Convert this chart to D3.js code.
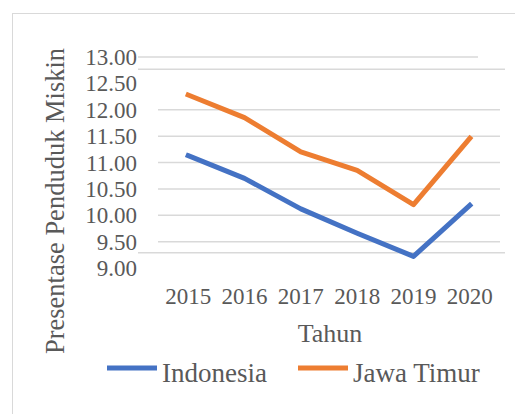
<!DOCTYPE html>
<html><head><meta charset="utf-8">
<script src="https://cdn.jsdelivr.net/npm/d3@7"></script>
<style>body{margin:0;background:#fff}</style>
</head><body><svg id="c" width="515" height="414" style="font-family:'Liberation Serif','Times New Roman',serif"></svg>
<script>
const years = ["2015","2016","2017","2018","2019","2020"];
const indonesia = [11.13, 10.70, 10.12, 9.66, 9.22, 10.19];
const jawaTimur = [12.28, 11.85, 11.20, 10.85, 10.20, 11.46];
const yTicks = [9.00, 9.50, 10.00, 10.50, 11.00, 11.50, 12.00, 12.50, 13.00];
const gridValues = [9.50, 10.00, 10.50, 11.00, 11.50, 12.00];
const ghostGrid = [12.77, 9.29];
const seriesNames = ["Indonesia", "Jawa Timur"];
const colors = ["#4472C4", "#ED7D31"];

const svg = d3.select("#c");
const txt = "#595959";
const FF = '"Liberation Serif", "Times New Roman", serif';

// chart border
svg.append("rect").attr("x",12.5).attr("y",13.5).attr("width",520).attr("height",420)
  .attr("fill","none").attr("stroke","#d9d9d9").attr("stroke-width",1);

const x = d3.scalePoint().domain(years).range([160,498]).padding(0.5);
const y = d3.scaleLinear().domain([9,13]).range([268,57]);

// grid
svg.append("g").selectAll("line").data(gridValues).join("line")
  .attr("x1",158).attr("x2",500).attr("y1",d=>y(d)).attr("y2",d=>y(d))
  .attr("stroke","#d9d9d9").attr("stroke-width",1.5);
svg.append("line").attr("x1",138).attr("x2",478).attr("y1",y(13)).attr("y2",y(13))
  .attr("stroke","#d9d9d9").attr("stroke-width",1.5);
svg.append("g").selectAll("line").data(ghostGrid).join("line")
  .attr("x1",138).attr("x2",505).attr("y1",d=>y(d)).attr("y2",d=>y(d))
  .attr("stroke","#d9d9d9").attr("stroke-width",1.5);

function T(sel, size){ return sel.style("font-family",FF).style("font-size",size+"px").style("fill",txt); }

// y tick labels
T(svg.append("g").selectAll("text").data(yTicks).join("text")
  .attr("x",137).attr("y",d=>y(d)).attr("dy","0.35em").attr("text-anchor","end"),23)
  .text(d=>d3.format(".2f")(d));

// x tick labels
T(svg.append("g").selectAll("text").data(years).join("text")
  .attr("x",d=>x(d)).attr("y",304).attr("text-anchor","middle"),23).text(d=>d);

// axis titles
T(svg.append("text").attr("x",330).attr("y",342).attr("text-anchor","middle"),26).text("Tahun");
T(svg.append("text").attr("transform","translate(64,201) rotate(-90)").attr("text-anchor","middle"),26.5)
  .text("Presentase Penduduk Miskin");

// lines
const line = d3.line().x((d,i)=>x(years[i])).y(d=>y(d));
[indonesia, jawaTimur].forEach((s,i)=>{
  svg.append("path").datum(s).attr("d",line).attr("fill","none")
    .attr("stroke",colors[i]).attr("stroke-width",5).attr("stroke-linejoin","round").attr("stroke-linecap","square");
});

// legend
const legX = [107, 298];
seriesNames.forEach((n,i)=>{
  svg.append("line").attr("x1",legX[i]).attr("x2",legX[i]+50).attr("y1",368).attr("y2",368)
    .attr("stroke",colors[i]).attr("stroke-width",5);
  T(svg.append("text").attr("x",legX[i]+55).attr("y",382),27).text(n);
});
</script></body></html>
